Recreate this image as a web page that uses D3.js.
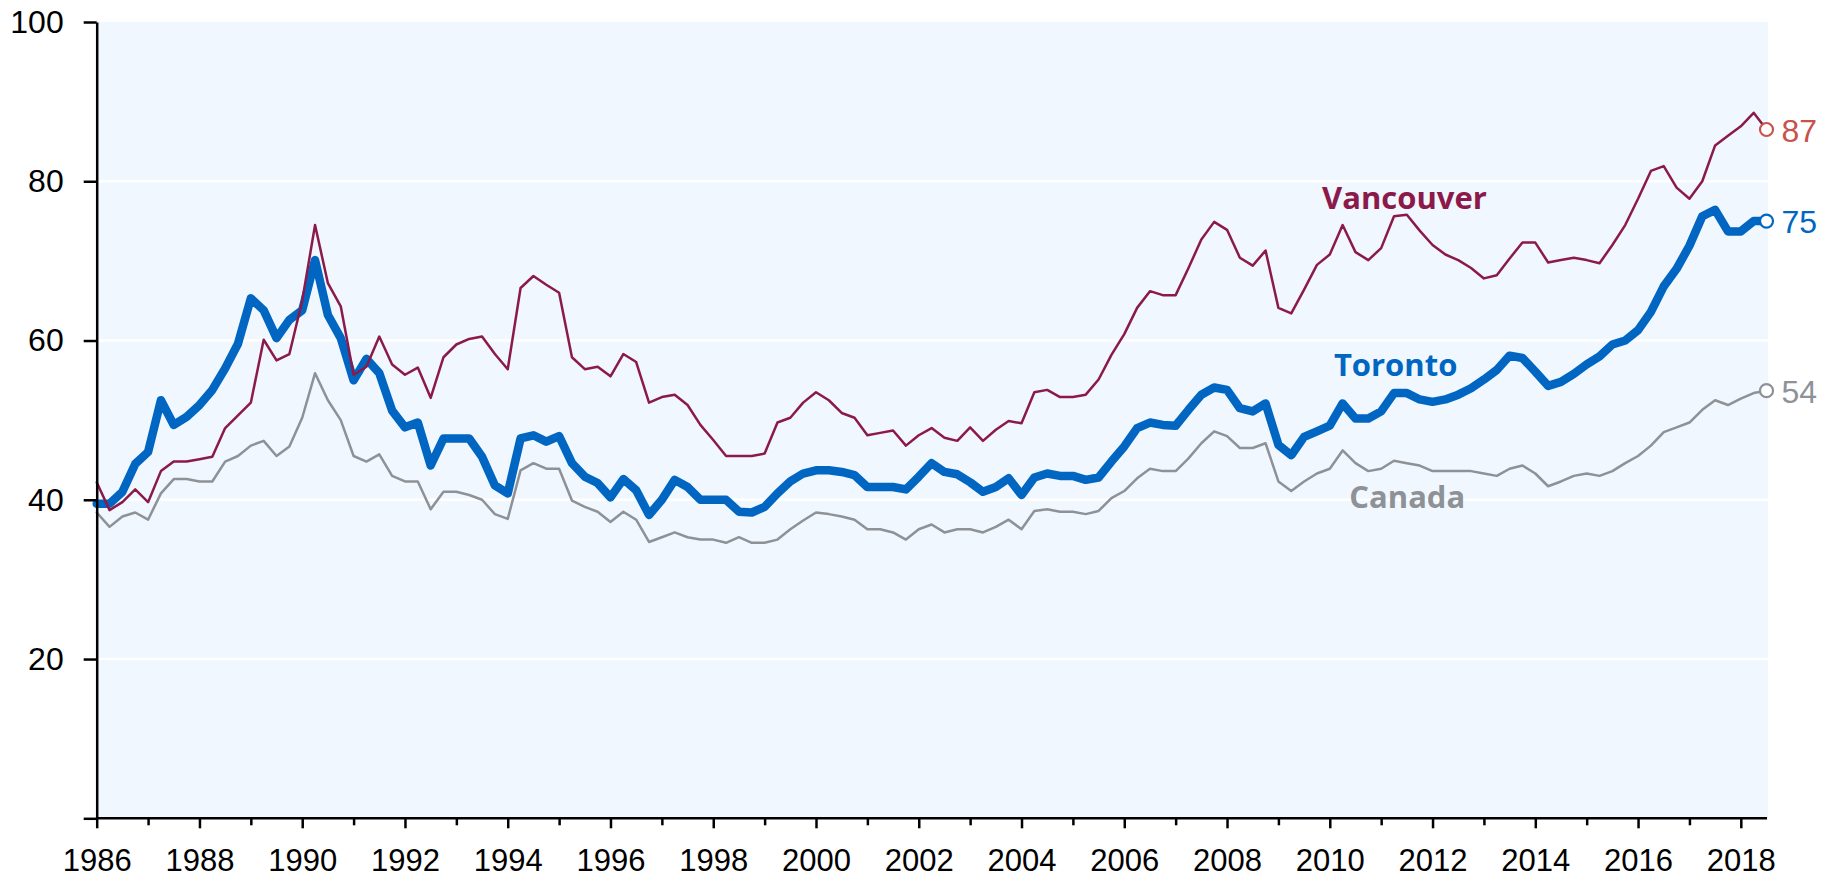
<!DOCTYPE html>
<html>
<head>
<meta charset="utf-8">
<script src="https://cdn.jsdelivr.net/npm/d3@7/dist/d3.min.js"></script>
<style>
    body { margin: 0; background: #ffffff; }
    .axis path, .axis line { stroke: #000000; stroke-width: 2.5; }
    .axis text { font-family: "Liberation Sans", Arial, sans-serif; font-size: 32px; fill: #000000; }
    .xaxis text { font-size: 31px; }
    .seriesName { font-family: "Open Sans", sans-serif; font-weight: bold; font-size: 31px; }
    .endLabel { font-family: "Liberation Sans", Arial, sans-serif; font-size: 32px; }
</style>
</head>
<body>
<script>
//quarterly series, first quarter of 1986 to third quarter of 2018
var startYear = 1986;

var toronto = [39.5, 39.5, 41.0, 44.5, 46.0, 52.5, 49.4, 50.4, 51.9, 53.8,
    56.5, 59.6, 65.3, 63.8, 60.3, 62.6, 63.8, 70.1, 63.2, 60.3,
    55.0, 57.7, 55.9, 51.2, 49.1, 49.7, 44.3, 47.7, 47.7, 47.7,
    45.4, 41.8, 40.8, 47.7, 48.1, 47.3, 48.0, 44.6, 42.9, 42.1,
    40.3, 42.6, 41.2, 38.1, 40.0, 42.5, 41.6, 40.0, 40.0, 40.0,
    38.5, 38.4, 39.1, 40.8, 42.3, 43.3, 43.7, 43.7, 43.5, 43.1,
    41.6, 41.6, 41.6, 41.3, 42.9, 44.6, 43.5, 43.2, 42.2, 41.0,
    41.6, 42.7, 40.6, 42.8, 43.3, 43.0, 43.0, 42.5, 42.8, 44.8,
    46.7, 49.0, 49.7, 49.4, 49.3, 51.3, 53.2, 54.1, 53.8, 51.5,
    51.1, 52.1, 46.9, 45.6, 47.9, 48.6, 49.3, 52.1, 50.2, 50.2,
    51.1, 53.4, 53.4, 52.6, 52.3, 52.6, 53.2, 54.0, 55.1, 56.3,
    58.1, 57.8, 56.1, 54.3, 54.8, 55.8, 57.0, 58.0, 59.5, 60.0,
    61.3, 63.6, 66.8, 69.0, 71.9, 75.6, 76.4, 73.7, 73.7, 75.0,
    75.0];

var vancouver = [42.2, 38.7, 39.7, 41.3, 39.7, 43.6, 44.8, 44.8, 45.1, 45.4,
    49.0, 50.6, 52.2, 60.1, 57.5, 58.3, 65.0, 74.5, 67.2, 64.3,
    55.7, 56.7, 60.5, 57.0, 55.7, 56.6, 52.8, 57.9, 59.5, 60.2,
    60.5, 58.3, 56.4, 66.6, 68.1, 67.0, 66.0, 57.9, 56.4, 56.7,
    55.5, 58.3, 57.3, 52.2, 52.9, 53.2, 51.9, 49.4, 47.5, 45.5,
    45.5, 45.5, 45.8, 49.7, 50.3, 52.2, 53.5, 52.5, 50.9, 50.3,
    48.1, 48.4, 48.7, 46.8, 48.1, 49.0, 47.8, 47.4, 49.1, 47.4,
    48.8, 49.9, 49.6, 53.5, 53.8, 52.9, 52.9, 53.2, 55.1, 58.2,
    60.8, 64.1, 66.2, 65.7, 65.7, 69.1, 72.7, 74.9, 73.9, 70.4,
    69.4, 71.3, 64.1, 63.4, 66.4, 69.5, 70.8, 74.5, 71.1, 70.1,
    71.6, 75.6, 75.8, 73.8, 72.0, 70.8, 70.1, 69.1, 67.8, 68.2,
    70.3, 72.3, 72.3, 69.8, 70.1, 70.4, 70.1, 69.7, 72.0, 74.5,
    77.8, 81.3, 81.9, 79.2, 77.8, 80.0, 84.5, 85.7, 86.9, 88.6,
    86.5];

var canada = [38.4, 36.6, 37.9, 38.4, 37.5, 40.8, 42.6, 42.6, 42.3, 42.3,
    44.8, 45.5, 46.8, 47.4, 45.5, 46.7, 50.3, 55.9, 52.5, 50.0,
    45.5, 44.8, 45.7, 43.0, 42.3, 42.3, 38.8, 41.0, 41.0, 40.6,
    40.0, 38.2, 37.6, 43.7, 44.6, 43.9, 43.9, 39.9, 39.1, 38.5,
    37.2, 38.5, 37.5, 34.7, 35.3, 35.9, 35.3, 35.0, 35.0, 34.6,
    35.3, 34.6, 34.6, 35.0, 36.3, 37.4, 38.4, 38.2, 37.9, 37.5,
    36.3, 36.3, 35.9, 35.0, 36.3, 36.9, 35.9, 36.3, 36.3, 35.9,
    36.6, 37.5, 36.3, 38.6, 38.8, 38.5, 38.5, 38.2, 38.6, 40.2,
    41.1, 42.7, 43.9, 43.6, 43.6, 45.2, 47.1, 48.6, 48.0, 46.5,
    46.5, 47.1, 42.3, 41.1, 42.3, 43.3, 43.9, 46.2, 44.6, 43.6,
    43.9, 44.9, 44.6, 44.3, 43.6, 43.6, 43.6, 43.6, 43.3, 43.0,
    43.9, 44.3, 43.3, 41.7, 42.3, 43.0, 43.3, 43.0, 43.6, 44.6,
    45.5, 46.8, 48.5, 49.1, 49.7, 51.3, 52.5, 51.9, 52.7, 53.4,
    53.7];

//axis ticks
var yTicks = [0, 20, 40, 60, 80, 100];
var xTicks = [1986, 1987, 1988, 1989, 1990, 1991, 1992, 1993, 1994, 1995,
    1996, 1997, 1998, 1999, 2000, 2001, 2002, 2003, 2004, 2005,
    2006, 2007, 2008, 2009, 2010, 2011, 2012, 2013, 2014, 2015,
    2016, 2017, 2018];
var xLabels = [1986, 1988, 1990, 1992, 1994, 1996, 1998, 2000, 2002,
    2004, 2006, 2008, 2010, 2012, 2014, 2016, 2018];

//series names and where their labels sit (year, value)
var names = ["Vancouver", "Toronto", "Canada"];
var nameAt = [[2009.85, 76.5], [2010.08, 55.5], [2010.38, 39.0]];

window.onload = drawChart();

function drawChart(){
    var width = 1837,
        height = 880;

    var left = 96.7,
        right = 1766.5,
        top = 22,
        bottom = 818.3,
        plotRight = 1768;

    var svg = d3.select("body")
        .append("svg")
        .attr("width", width)
        .attr("height", height);

    var x = d3.scaleLinear()
        .domain([startYear, 2018.5])
        .range([left, right]);

    var y = d3.scaleLinear()
        .domain([0, 100])
        .range([bottom, top]);

    //plot background
    svg.append("rect")
        .attr("x", left)
        .attr("y", top)
        .attr("width", plotRight - left)
        .attr("height", bottom - top)
        .attr("fill", "#F0F7FE");

    //white gridlines
    svg.selectAll(".grid")
        .data(yTicks.filter(function(d){ return d > 0 && d < 100; }))
        .enter()
        .append("line")
        .attr("class", "grid")
        .attr("x1", left)
        .attr("x2", plotRight)
        .attr("y1", function(d){ return y(d); })
        .attr("y2", function(d){ return y(d); })
        .attr("stroke", "#ffffff")
        .attr("stroke-width", 2.5);

    //line generator over quarters
    var line = d3.line()
        .x(function(d, i){ return x(startYear + i / 4); })
        .y(function(d){ return y(d); });

    var series = [
        {name: "Toronto", values: toronto, color: "#0066C2", width: 8.5},
        {name: "Canada", values: canada, color: "#8E9297", width: 2.5},
        {name: "Vancouver", values: vancouver, color: "#8B1A4B", width: 2.5}
    ];

    svg.selectAll(".series")
        .data(series)
        .enter()
        .append("path")
        .attr("class", "series")
        .attr("d", function(d){ return line(d.values); })
        .attr("fill", "none")
        .attr("stroke", function(d){ return d.color; })
        .attr("stroke-width", function(d){ return d.width; })
        .attr("stroke-linejoin", "round")
        .attr("stroke-linecap", "round");

    //axes
    var yAxis = svg.append("g")
        .attr("class", "axis")
        .attr("transform", "translate(" + left + ",0)")
        .call(d3.axisLeft(y)
            .tickValues(yTicks)
            .tickSize(13)
            .tickSizeOuter(0)
            .tickPadding(20)
            .tickFormat(function(d){ return d === 0 ? "" : d; }));

    var xAxis = svg.append("g")
        .attr("class", "axis xaxis")
        .attr("transform", "translate(0," + bottom + ")")
        .call(d3.axisBottom(x)
            .tickValues(xTicks)
            .tickSize(10)
            .tickSizeOuter(0)
            .tickPadding(21)
            .tickFormat(function(d){ return xLabels.indexOf(d) >= 0 ? d : ""; }));

    xAxis.select(".domain").attr("d", "M" + left + ",0H" + (plotRight - 1));

    //shorter ticks on odd years, drop their empty labels
    xAxis.selectAll(".tick line")
        .attr("y2", function(d){ return xLabels.indexOf(d) >= 0 ? 10 : 7; });
    xAxis.selectAll(".tick text")
        .filter(function(d){ return xLabels.indexOf(d) < 0; })
        .remove();
    yAxis.selectAll(".tick text")
        .filter(function(d){ return d === 0; })
        .remove();

    //series names
    var nameColors = ["#8B1A4B", "#0066C2", "#8E9297"];
    svg.selectAll(".seriesName")
        .data(names)
        .enter()
        .append("text")
        .attr("class", "seriesName")
        .attr("x", function(d, i){ return x(nameAt[i][0]); })
        .attr("y", function(d, i){ return y(nameAt[i][1]); })
        .attr("fill", function(d, i){ return nameColors[i]; })
        .text(function(d){ return d; });

    //end markers and values
    var ends = [
        {values: vancouver, color: "#C8534C"},
        {values: toronto, color: "#0066C2"},
        {values: canada, color: "#8E9297"}
    ];
    var last = toronto.length - 1;

    svg.selectAll(".endDot")
        .data(ends)
        .enter()
        .append("circle")
        .attr("class", "endDot")
        .attr("cx", x(startYear + last / 4))
        .attr("cy", function(d){ return y(d.values[last]); })
        .attr("r", 6.5)
        .attr("fill", "#ffffff")
        .attr("stroke", function(d){ return d.color; })
        .attr("stroke-width", 2.2);

    svg.selectAll(".endLabel")
        .data(ends)
        .enter()
        .append("text")
        .attr("class", "endLabel")
        .attr("x", x(startYear + last / 4) + 15)
        .attr("y", function(d){ return y(d.values[last]) + 12; })
        .attr("fill", function(d){ return d.color; })
        .text(function(d){ return Math.round(d.values[last]); });
};
</script>
</body>
</html>
